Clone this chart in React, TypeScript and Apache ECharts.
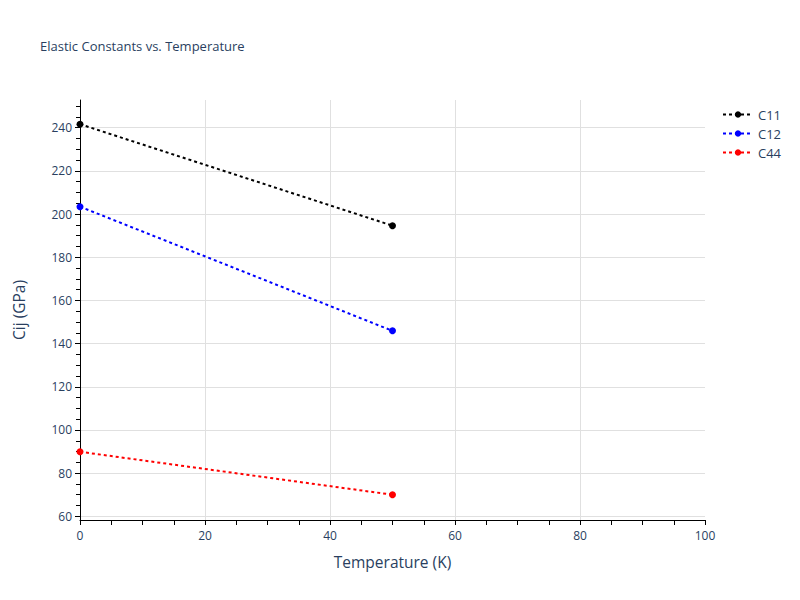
import React, { useEffect, useRef } from "react";
import * as echarts from "echarts";

const temperatures: number[] = [0, 50];
const c11Values: number[] = [241.6, 194.6];
const c12Values: number[] = [203.4, 145.9];
const c44Values: number[] = [89.9, 70.0];
const seriesNames: string[] = ["C11", "C12", "C44"];
const seriesColors: string[] = ["#000000", "#0000ff", "#ff0000"];
const yMinorTicks: number[] = [
  65, 70, 75, 85, 90, 95, 105, 110, 115, 125, 130, 135, 145, 150, 155,
  165, 170, 175, 185, 190, 195, 205, 210, 215, 225, 230, 235, 245, 250,
];

const FONT = "'Open Sans', verdana, arial, sans-serif";
const TXT = "#2a3f5f";

export default function App() {
  const ref = useRef<HTMLDivElement>(null);
  useEffect(() => {
    document.body.style.margin = "0";
    if (!ref.current) return;
    const chart = echarts.init(ref.current, undefined, { renderer: "svg" });
    const allValues = [c11Values, c12Values, c44Values];
    chart.setOption({
      animation: false,
      backgroundColor: "#ffffff",
      textStyle: { fontFamily: FONT },
      title: {
        text: "Elastic Constants vs. Temperature",
        left: 35,
        top: 34,
        textStyle: { fontFamily: FONT, fontSize: 13, fontWeight: "normal", color: TXT },
      },
      legend: {
        orient: "vertical",
        left: 717,
        top: 103,
        itemWidth: 30,
        itemHeight: 8,
        itemGap: 6,
        textStyle: { fontFamily: FONT, fontSize: 13, color: TXT },
        data: seriesNames,
      },
      grid: { left: 80, right: 95, top: 100, bottom: 80, containLabel: false },
      xAxis: {
        type: "value",
        min: 0,
        max: 100,
        interval: 20,
        name: "Temperature (K)",
        nameLocation: "middle",
        nameGap: 34,
        nameTextStyle: { fontFamily: FONT, fontSize: 15.5, color: TXT },
        axisLine: { show: true, onZero: false, lineStyle: { color: "#000", width: 1 } },
        axisTick: { show: true, length: 5, lineStyle: { color: "#000" } },
        minorTick: { show: true, splitNumber: 4, length: 5, lineStyle: { color: "#000" } },
        axisLabel: { fontFamily: FONT, fontSize: 12, color: TXT, margin: 9 },
        splitLine: { show: true, showMinLine: false, showMaxLine: false, lineStyle: { color: "#e0e0e0", width: 1 } },
      },
      yAxis: [
        {
          type: "value",
          min: 58.3,
          max: 252.8,
          splitNumber: 10,
          name: "Cij (GPa)",
          nameLocation: "middle",
          nameGap: 53,
          nameTextStyle: { fontFamily: FONT, fontSize: 15.5, color: TXT },
          axisLine: { show: true, onZero: false, lineStyle: { color: "#000", width: 1 } },
          axisTick: { show: true, length: 5, lineStyle: { color: "#000" } },
          axisLabel: {
            fontFamily: FONT,
            fontSize: 12,
            color: TXT,
            margin: 8,
            showMinLabel: false,
            showMaxLabel: false,
          },
          splitLine: { show: true, showMinLine: false, showMaxLine: false, lineStyle: { color: "#e0e0e0", width: 1 } },
        },
        {
          type: "value",
          position: "left",
          min: 58.3,
          max: 252.8,
          alignTicks: false,
          axisLine: { show: false },
          axisLabel: { show: false },
          splitLine: { show: false },
          axisTick: { show: true, length: 4, customValues: yMinorTicks, lineStyle: { color: "#000" } },
        },
      ],
      series: seriesNames.map((name, i) => ({
        name,
        type: "line",
        yAxisIndex: 0,
        data: temperatures.map((t, j) => [t, allValues[i][j]]),
        symbol: "circle",
        symbolSize: 7,
        showSymbol: true,
        itemStyle: { color: seriesColors[i] },
        lineStyle: { color: seriesColors[i], width: 2, type: [3, 3] },
        emphasis: { disabled: true },
      })),
    });
    return () => chart.dispose();
  }, []);
  return <div ref={ref} style={{ width: 800, height: 600 }} />;
}
